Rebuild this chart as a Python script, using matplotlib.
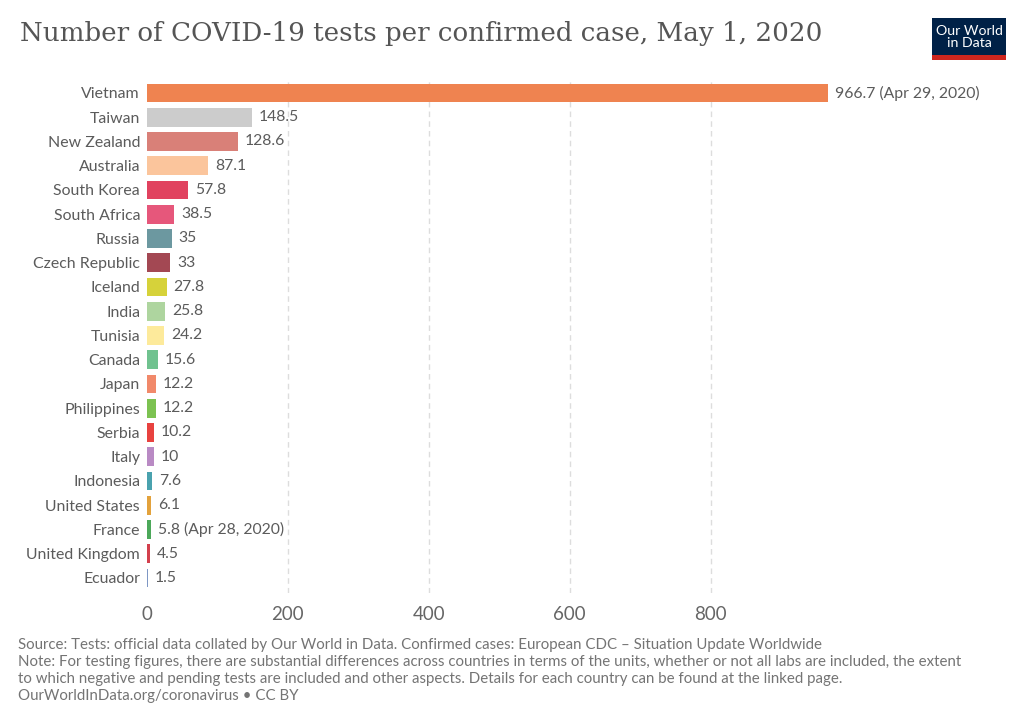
import matplotlib
matplotlib.use("Agg")
import matplotlib.pyplot as plt
from matplotlib.patches import Rectangle

countries = ["Vietnam", "Taiwan", "New Zealand", "Australia", "South Korea", "South Africa",
             "Russia", "Czech Republic", "Iceland", "India", "Tunisia", "Canada", "Japan",
             "Philippines", "Serbia", "Italy", "Indonesia", "United States", "France",
             "United Kingdom", "Ecuador"]
values = [966.7, 148.5, 128.6, 87.1, 57.8, 38.5, 35, 33, 27.8, 25.8, 24.2, 15.6, 12.2,
          12.2, 10.2, 10, 7.6, 6.1, 5.8, 4.5, 1.5]
value_labels = ["966.7 (Apr 29, 2020)", "148.5", "128.6", "87.1", "57.8", "38.5", "35", "33",
                "27.8", "25.8", "24.2", "15.6", "12.2", "12.2", "10.2", "10", "7.6", "6.1",
                "5.8 (Apr 28, 2020)", "4.5", "1.5"]
colors = ["#EF8350", "#CCCCCC", "#D98078", "#FBC59C", "#E1425F", "#E6577B", "#6C98A0",
          "#A34853", "#D6D23A", "#AED59F", "#FDEA9B", "#70C28F", "#F1896A", "#7CC251",
          "#E8423F", "#B98AC4", "#4AA2AE", "#E3A23C", "#4CA85A", "#D3404D", "#7E97C4"]
xticks = [0, 200, 400, 600, 800]

title = "Number of COVID-19 tests per confirmed case, May 1, 2020"
footer = ["Source: Tests: official data collated by Our World in Data. Confirmed cases: European CDC \u2013 Situation Update Worldwide",
          "Note: For testing figures, there are substantial differences across countries in terms of the units, whether or not all labs are included, the extent",
          "to which negative and pending tests are included and other aspects. Details for each country can be found at the linked page.",
          "OurWorldInData.org/coronavirus \u2022 CC BY"]

W, H = 1024, 723
fig = plt.figure(figsize=(W / 100, H / 100), dpi=100)
fig.patch.set_facecolor("white")

ax_left, ax_right, ax_top, ax_bot = 147, 828, 80, 593
ax = fig.add_axes([ax_left / W, 1 - ax_bot / H, (ax_right - ax_left) / W, (ax_bot - ax_top) / H])

ypos = list(range(len(countries)))
ax.barh(ypos, values, height=0.78, color=colors, zorder=3)
ax.set_xlim(0, max(values))
ax.set_ylim(20.62, -0.536)

for y, v, lab in zip(ypos, values, value_labels):
    ax.annotate(lab, (v, y), xytext=(5, 0), textcoords="offset points", ha="left", va="center",
                fontsize=11.3, color="#5b5b5b", family="Lato", zorder=4)

ax.set_yticks(ypos)
ax.set_yticklabels(countries, fontsize=11.4, color="#5b5b5b", family="Lato")
ax.set_xticks(xticks)
ax.set_xticklabels([str(t) for t in xticks], fontsize=13.5, color="#666666", family="Lato")
ax.tick_params(axis="both", length=0)
ax.tick_params(axis="y", pad=5)
ax.tick_params(axis="x", pad=9)
for s in ax.spines.values():
    s.set_visible(False)
for t in xticks[1:]:
    ax.axvline(t, color="#dddddd", linestyle=(0, (4, 3)), linewidth=1, zorder=1)

fig.text(20 / W, 1 - 34 / H, title, fontsize=18.8, family="DejaVu Serif", color="#555555",
         ha="left", va="center")

for i, line in enumerate(footer):
    fig.text(18 / W, 1 - (645 + i * 17) / H, line, fontsize=10.8, family="Lato", color="#747474",
             ha="left", va="center")

# logo
lx0, ly0, lx1, ly1 = 932, 18, 1006, 60
fig.patches.append(Rectangle((lx0 / W, 1 - ly1 / H), (lx1 - lx0) / W, (ly1 - ly0) / H,
                             transform=fig.transFigure, facecolor="#002147", edgecolor="none"))
fig.patches.append(Rectangle((lx0 / W, 1 - ly1 / H), (lx1 - lx0) / W, 5 / H,
                             transform=fig.transFigure, facecolor="#CE261E", edgecolor="none"))
fig.text((lx0 + lx1) / 2 / W, 1 - 37 / H, "Our World\nin Data", fontsize=10.2, family="Lato",
         color="white", ha="center", va="center", linespacing=1.0)

fig.savefig("out.png", dpi=100)
